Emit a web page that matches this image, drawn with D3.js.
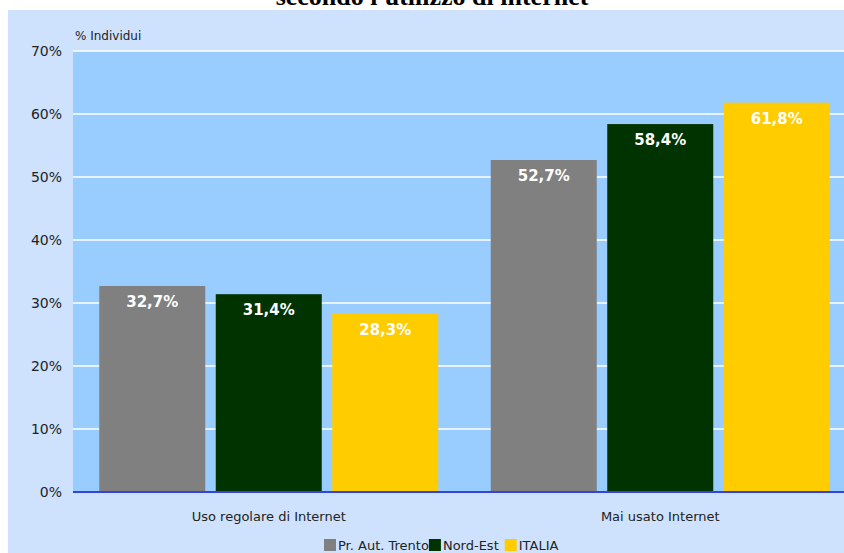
<!DOCTYPE html>
<meta charset="utf-8">
<style>
body { margin: 0; background: #fff; }
svg { display: block; }
.tick text { font-family: Tahoma, "DejaVu Sans", sans-serif; font-size: 14px; fill: #222; }
</style>
<svg width="844" height="553" id="chart"></svg>
<script src="https://d3js.org/d3.v7.min.js"></script>
<script>
// data
var categories = ["Uso regolare di Internet", "Mai usato Internet"];
var series = ["Pr. Aut. Trento", "Nord-Est", "ITALIA"];
var trento = [32.7, 52.7];
var nordEst = [31.4, 58.4];
var italia = [28.3, 61.8];
var yTicks = [0, 10, 20, 30, 40, 50, 60, 70];
var colors = ["#808080", "#003300", "#ffcc00"];

var values = [trento, nordEst, italia];
var rows = categories.map(function(c, i) {
  return { cat: c, vals: series.map(function(s, j) { return { name: s, v: values[j][i], k: j }; }) };
});

var svg = d3.select("#chart");

// title, cut off at the top
svg.append("text")
  .attr("x", 432).attr("y", 5)
  .attr("text-anchor", "middle")
  .style("font-family", "'Liberation Serif', 'Times New Roman', serif")
  .style("font-weight", "bold")
  .style("font-size", "26px")
  .text("secondo l'utilizzo di internet");

// outer panel
svg.append("rect")
  .attr("x", 8).attr("y", 10)
  .attr("width", 844).attr("height", 560)
  .attr("fill", "#cee2fe");

var plotL = 73, plotT = 51, plotB = 492, plotR = 856;

var x = d3.scaleBand().domain(categories).range([plotL, plotR]);
var x1 = d3.scaleBand().domain(series).range([0, 339]).paddingInner(0.09);
var y = d3.scaleLinear().domain([0, 70]).range([plotB, plotT]);

// plot area
svg.append("rect")
  .attr("x", plotL).attr("y", plotT)
  .attr("width", plotR - plotL).attr("height", plotB - plotT)
  .attr("fill", "#99ccff");

// grid
svg.append("g").selectAll("line")
  .data(yTicks.slice(1))
  .enter().append("line")
  .attr("x1", plotL).attr("x2", plotR)
  .attr("y1", function(d) { return y(d); })
  .attr("y2", function(d) { return y(d); })
  .attr("stroke", "#ffffff").attr("stroke-width", 1.5);

// y axis labels
var yAxis = svg.append("g")
  .attr("transform", "translate(" + (plotL - 11) + ",0)")
  .call(d3.axisLeft(y).tickValues(yTicks).tickSize(0).tickPadding(0)
    .tickFormat(function(d) { return d + "%"; }));
yAxis.select(".domain").remove();

svg.append("text")
  .attr("x", 75).attr("y", 40)
  .style("font-family", "Tahoma, 'DejaVu Sans', sans-serif")
  .style("font-size", "12px").attr("fill", "#222")
  .text("% Individui");

// bars
var groups = svg.append("g").selectAll("g")
  .data(rows)
  .enter().append("g")
  .attr("transform", function(d) { return "translate(" + (x(d.cat) + (x.bandwidth() - 339) / 2) + ",0)"; });

groups.selectAll("rect")
  .data(function(d) { return d.vals; })
  .enter().append("rect")
  .attr("x", function(d) { return x1(d.name); })
  .attr("y", function(d) { return y(d.v); })
  .attr("width", x1.bandwidth())
  .attr("height", function(d) { return plotB - y(d.v); })
  .attr("fill", function(d) { return colors[d.k]; });

groups.selectAll("text")
  .data(function(d) { return d.vals; })
  .enter().append("text")
  .attr("x", function(d) { return x1(d.name) + x1.bandwidth() / 2; })
  .attr("y", function(d) { return y(d.v) + 21; })
  .attr("text-anchor", "middle")
  .style("font-family", "Tahoma, 'DejaVu Sans', sans-serif")
  .style("font-weight", "bold")
  .style("font-size", "15px")
  .attr("fill", "#ffffff")
  .text(function(d) { return d3.format(".1f")(d.v).replace(".", ",") + "%"; });

// zero line
svg.append("line")
  .attr("x1", plotL).attr("x2", plotR)
  .attr("y1", plotB).attr("y2", plotB)
  .attr("stroke", "#3344dd").attr("stroke-width", 2);

// category labels
svg.append("g").selectAll("text")
  .data(categories)
  .enter().append("text")
  .attr("x", function(d) { return x(d) + x.bandwidth() / 2; })
  .attr("y", 521)
  .attr("text-anchor", "middle")
  .style("font-family", "Tahoma, 'DejaVu Sans', sans-serif")
  .style("font-size", "13px").attr("fill", "#222")
  .text(function(d) { return d; });

// legend
var legend = svg.append("g").attr("transform", "translate(324,539)");
var lx = 0;
series.forEach(function(s, i) {
  var g = legend.append("g").attr("transform", "translate(" + lx + ",0)");
  g.append("rect").attr("width", 12).attr("height", 12).attr("fill", colors[i]);
  var t = g.append("text").attr("x", 14).attr("y", 11)
    .style("font-family", "Tahoma, 'DejaVu Sans', sans-serif")
    .style("font-size", "13px").attr("fill", "#222")
    .text(s);
  lx += 14 + t.node().getComputedTextLength() + (i === 0 ? 0 : 6);
});
</script>
